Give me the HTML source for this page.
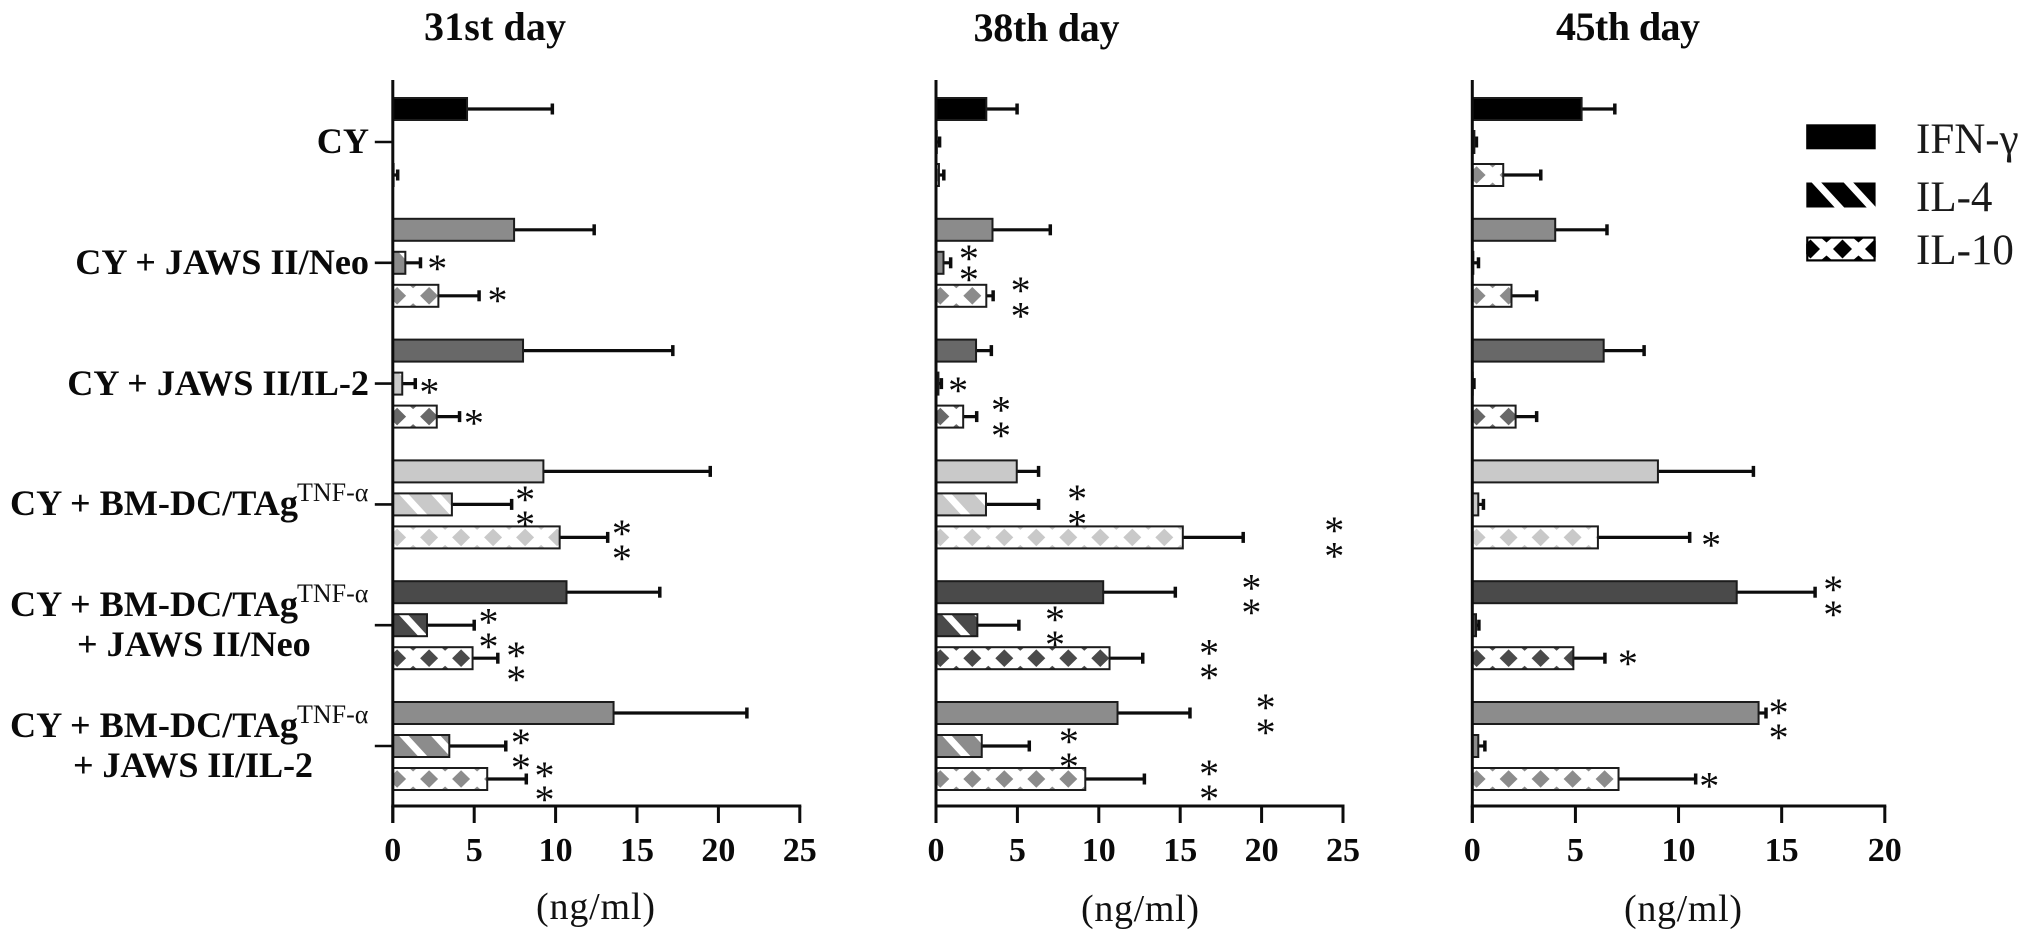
<!DOCTYPE html>
<html lang="en">
<head>
<meta charset="utf-8">
<title>Cytokine production by day</title>
<style>
  html, body { margin: 0; padding: 0; background: #fff; }
  svg { display: block; font-family: "Liberation Serif", "Noto Serif CJK SC", serif; }
  .title { font-size: 40px; font-weight: bold; text-anchor: middle; fill: #0a0a0a; }
  .cat { font-size: 36.2px; font-weight: bold; text-anchor: end; fill: #0a0a0a; }
  .catl { font-size: 36.2px; font-weight: bold; text-anchor: start; fill: #0a0a0a; }
  .sup { font-size: 26px; font-weight: normal; fill: #111; }
  .unit { font-size: 38px; text-anchor: middle; fill: #111; }
  .tick { font-size: 34px; font-weight: bold; text-anchor: middle; fill: #0a0a0a; }
  .star { font-size: 40px; text-anchor: middle; fill: #0a0a0a; }
  .leg { font-size: 43px; fill: #1a1a1a; }
</style>
</head>
<body>
<svg id="chart" xmlns="http://www.w3.org/2000/svg" width="2031" height="943" viewBox="0 0 2031 943">
  <rect x="0" y="0" width="2031" height="943" fill="#fff"/>

  <text class="title" x="495" y="40" textLength="142" lengthAdjust="spacing">31st day</text>
  <text class="title" x="1046.5" y="41" textLength="146" lengthAdjust="spacing">38th day</text>
  <text class="title" x="1628" y="40" textLength="144" lengthAdjust="spacing">45th day</text>

  <text class="cat" x="369" y="153">CY</text>
  <text class="cat" x="369" y="274">CY + JAWS II/Neo</text>
  <text class="cat" x="369" y="395">CY + JAWS II/IL-2</text>

  <g>
    <text class="catl" x="10" y="515">CY + BM-DC/TAg</text>
    <text class="sup" x="297" y="501">TNF-α</text>
  </g>
  <g>
    <text class="catl" x="10" y="616">CY + BM-DC/TAg</text>
    <text class="sup" x="297" y="602">TNF-α</text>
    <text class="catl" x="77" y="656">+ JAWS II/Neo</text>
  </g>
  <g>
    <text class="catl" x="10" y="737">CY + BM-DC/TAg</text>
    <text class="sup" x="297" y="723">TNF-α</text>
    <text class="catl" x="73" y="777" textLength="240" lengthAdjust="spacing">+ JAWS II/IL-2</text>
  </g>

  <text class="unit" x="595.5" y="919" textLength="119" lengthAdjust="spacing">(ng/ml)</text>
  <text class="unit" x="1140" y="921" textLength="118" lengthAdjust="spacing">(ng/ml)</text>
  <text class="unit" x="1683" y="921" textLength="118" lengthAdjust="spacing">(ng/ml)</text>

  <g id="plots"></g>

  <g id="legend">
    <text class="leg" x="1916" y="153">IFN-γ</text>
    <text class="leg" x="1916" y="211">IL-4</text>
    <text class="leg" x="1916" y="264">IL-10</text>
  </g>
</svg>

<script>
// ---- chart data ----
const groupNames = ['CY', 'CY + JAWS II/Neo', 'CY + JAWS II/IL-2', 'CY + BM-DC/TAg', 'CY + BM-DC/TAg + JAWS II/Neo', 'CY + BM-DC/TAg + JAWS II/IL-2'];
const seriesNames = ['ifn', 'il4', 'il10'];

const day31Ifn = [4.56, 7.45, 8.0, 9.25, 10.67, 13.56];
const day31IfnErr = [9.8, 12.37, 17.2, 19.5, 16.4, 21.75];
const day31Il4 = [0, 0.77, 0.58, 3.63, 2.1, 3.47];
const day31Il4Err = [0, 1.7, 1.38, 7.3, 5.0, 6.94];
const day31Il10 = [0.05, 2.8, 2.7, 10.25, 4.9, 5.8];
const day31Il10Err = [0.3, 5.3, 4.1, 13.2, 6.45, 8.2];

const day38Ifn = [3.09, 3.47, 2.46, 4.96, 10.27, 11.15];
const day38IfnErr = [4.98, 7.02, 3.4, 6.3, 14.7, 15.6];
const day38Il4 = [0.05, 0.46, 0.15, 3.07, 2.54, 2.81];
const day38Il4Err = [0.22, 0.9, 0.33, 6.3, 5.09, 5.73];
const day38Il10 = [0.18, 3.09, 1.67, 15.16, 10.66, 9.17];
const day38Il10Err = [0.48, 3.51, 2.5, 18.87, 12.7, 12.8];

const day45Ifn = [5.3, 4.02, 6.37, 9.0, 12.82, 13.88];
const day45IfnErr = [6.91, 6.53, 8.33, 13.63, 16.62, 14.24];
const day45Il4 = [0.1, 0.05, 0.02, 0.29, 0.18, 0.29];
const day45Il4Err = [0.2, 0.3, 0.08, 0.54, 0.32, 0.61];
const day45Il10 = [1.5, 1.9, 2.1, 6.09, 4.9, 7.09];
const day45Il10Err = [3.32, 3.12, 3.12, 10.54, 6.43, 10.83];

const ticks31 = [0, 5, 10, 15, 20, 25];
const ticks38 = [0, 5, 10, 15, 20, 25];
const ticks45 = [0, 5, 10, 15, 20];

// significance asterisks: [ng/ml, group index, bar row within group]
const sig31 = [[2.73,1,1.0],[6.43,1,1.98],[2.25,2,1.09],[4.98,2,2.03],[8.13,3,0.68],[8.13,3,1.44],[14.07,3,1.72],[14.07,3,2.47],[5.88,4,0.74],[5.88,4,1.48],[7.58,4,1.75],[7.58,4,2.48],[7.87,5,0.72],[7.87,5,1.48],[9.32,5,1.73],[9.32,5,2.45]];
const sig38 = [[2.02,1,0.7],[2.02,1,1.34],[5.2,1,1.68],[5.2,1,2.45],[1.36,2,1.04],[3.99,2,1.64],[3.99,2,2.4],[8.67,3,0.65],[8.67,3,1.43],[24.46,3,1.62],[24.46,3,2.4],[19.37,4,-0.29],[19.37,4,0.45],[7.31,4,0.66],[7.31,4,1.42],[16.78,4,1.68],[16.78,4,2.42],[20.25,5,-0.34],[20.25,5,0.42],[8.16,5,0.69],[8.16,5,1.45],[16.78,5,1.67],[16.78,5,2.42]];
const sig45 = [[11.58,3,2.06],[17.5,4,-0.25],[17.5,4,0.51],[7.54,4,2.0],[14.85,5,-0.18],[14.85,5,0.57],[11.49,5,2.05]];

// ---- styling and layout ----
const ifnColors = ['#000000', '#8b8b8b', '#686868', '#c9c9c9', '#4a4a4a', '#8c8c8c'];
const il4Colors = ['#000000', '#8b8b8b', '#c9c9c9', '#c9c9c9', '#4a4a4a', '#8c8c8c'];
const il10Colors = ['#8c8c8c', '#8b8b8b', '#686868', '#c9c9c9', '#4a4a4a', '#8c8c8c'];
const seriesColors = [ifnColors, il4Colors, il10Colors];
const INK = '#0c0c0c';
const NS = 'http://www.w3.org/2000/svg';
const AXIS_TOP = 80, AXIS_BOTTOM = 806, TICK_BOTTOM = 823, BAR_H = 22;

function mk(tag, parent, geometry) {
  const node = document.createElementNS(NS, tag);
  for (const k in geometry) node.setAttribute(k, geometry[k]);
  parent.appendChild(node);
  return node;
}
function rowY(group, bar) { return 109 + group * 120.8 + bar * 33; }

function drawStripes(parent, w, h) {
  for (let k = 0; 5.5 + k * 32 < w + 2; k++) {
    const a = 5.5 + k * 32;
    mk('polygon', parent, { points: a + ',0 ' + (a + 9.5) + ',0 ' + (a + 9.5 + h * 0.92) + ',' + h + ' ' + (a + h * 0.92) + ',' + h, fill: '#fff' });
  }
}
function drawCrosses(parent, w, h, color, dw, dh, tw, th) {
  for (let k = 0; 4.3 + k * 32 - dw < w; k++) {
    const c = 4.3 + k * 32, m = h / 2, t = c + 16;
    mk('polygon', parent, { points: (c - dw) + ',' + m + ' ' + c + ',' + (m - dh) + ' ' + (c + dw) + ',' + m + ' ' + c + ',' + (m + dh), fill: color });
    mk('polygon', parent, { points: (t - tw) + ',0 ' + (t + tw) + ',0 ' + t + ',' + th, fill: color });
    mk('polygon', parent, { points: (t - tw) + ',' + h + ' ' + (t + tw) + ',' + h + ' ' + t + ',' + (h - th), fill: color });
  }
}

function drawPanel(cfg) {
  const root = document.getElementById('plots');
  const panel = mk('g', root, {});
  
  
  const xScale = v => cfg.x0 + (v / cfg.max) * cfg.width;

  cfg.series.forEach((vals, s) => {
    vals.forEach((v, g) => {
      const cy = rowY(g, s);
      const bar = mk('g', panel, {});
      
      
      const color = seriesColors[s][g];
      const xEnd = xScale(v), xErr = xScale(cfg.errors[s][g]);
      if (xErr > cfg.x0) {
        mk('line', bar, { x1: cfg.x0, y1: cy, x2: xErr, y2: cy, stroke: INK, 'stroke-width': 3.2 });
        mk('line', bar, { x1: xErr, y1: cy - 5.5, x2: xErr, y2: cy + 5.5, stroke: INK, 'stroke-width': 3.5 });
      }
      const w = xEnd - cfg.x0;
      if (w > 0) {
        const fill = s === 2 ? '#fff' : color;
        mk('rect', bar, { x: cfg.x0, y: cy - BAR_H / 2, width: w, height: BAR_H, fill: fill });
        const clip = mk('svg', bar, { x: cfg.x0, y: cy - BAR_H / 2, width: w, height: BAR_H });
        if (s === 1) drawStripes(clip, w, BAR_H);
        if (s === 2) drawCrosses(clip, w, BAR_H, color, 9, 8.8, 4, 3.5);
        mk('rect', bar, { x: cfg.x0, y: cy - BAR_H / 2, width: w, height: BAR_H, fill: 'none', stroke: '#1c1c1c', 'stroke-width': 2 });
      }
    });
  });

  // axes
  const yAxis = mk('line', panel, { x1: cfg.x0, y1: AXIS_TOP, x2: cfg.x0, y2: TICK_BOTTOM, stroke: INK, 'stroke-width': 3 });
  
  
  const xAxis = mk('line', panel, { x1: cfg.x0 - 1.5, y1: AXIS_BOTTOM, x2: xScale(cfg.max) + 1.5, y2: AXIS_BOTTOM, stroke: INK, 'stroke-width': 3 });
  
  

  cfg.ticks.forEach(t => {
    const tx = xScale(t);
    const mark = mk('line', panel, { x1: tx, y1: AXIS_BOTTOM, x2: tx, y2: TICK_BOTTOM, stroke: INK, 'stroke-width': 3 });
    
    
    const lab = mk('text', panel, { x: tx, y: 861, class: 'tick' });
    
    
    lab.textContent = String(t);
  });

  if (cfg.categoryTicks) {
    groupNames.forEach((n, g) => {
      const cy = rowY(g, 1);
      const mark = mk('line', panel, { x1: cfg.x0 - 18, y1: cy, x2: cfg.x0, y2: cy, stroke: INK, 'stroke-width': 2.6 });
      
      
    });
  }

  cfg.sig.forEach(a => {
    const star = mk('text', panel, { x: xScale(a[0]), y: rowY(a[1], a[2]) + 19, class: 'star' });
    
    
    star.textContent = '*';
  });
}

drawPanel({ name: '31st-day', x0: 392.8, width: 407, max: 25, ticks: ticks31, sig: sig31, categoryTicks: true,
  series: [day31Ifn, day31Il4, day31Il10], errors: [day31IfnErr, day31Il4Err, day31Il10Err] });
drawPanel({ name: '38th-day', x0: 936, width: 407, max: 25, ticks: ticks38, sig: sig38, categoryTicks: false,
  series: [day38Ifn, day38Il4, day38Il10], errors: [day38IfnErr, day38Il4Err, day38Il10Err] });
drawPanel({ name: '45th-day', x0: 1472.3, width: 412.5, max: 20, ticks: ticks45, sig: sig45, categoryTicks: false,
  series: [day45Ifn, day45Il4, day45Il10], errors: [day45IfnErr, day45Il4Err, day45Il10Err] });

// legend swatches
(function () {
  const legend = document.getElementById('legend');
  const X = 1806.2, W = 69.5, H = 25;
  const a = mk('rect', legend, { x: X, y: 124.3, width: W, height: H, fill: '#000' });
  
  

  const b = mk('svg', legend, { x: X, y: 182.5, width: W, height: H });
  
  
  mk('rect', b, { x: 0, y: 0, width: W, height: H, fill: '#000' });
  drawStripes(b, 50, H);

  const c = mk('svg', legend, { x: X, y: 236.5, width: W, height: H });
  
  
  mk('rect', c, { x: 0, y: 0, width: W, height: H, fill: '#fff' });
  drawCrosses(c, W, H, '#000', 9.5, 9.5, 7, 6);
  mk('rect', c, { x: 1, y: 1, width: W - 2, height: H - 2, fill: 'none', stroke: '#000', 'stroke-width': 2.4 });
})();
</script>
</body>
</html>
